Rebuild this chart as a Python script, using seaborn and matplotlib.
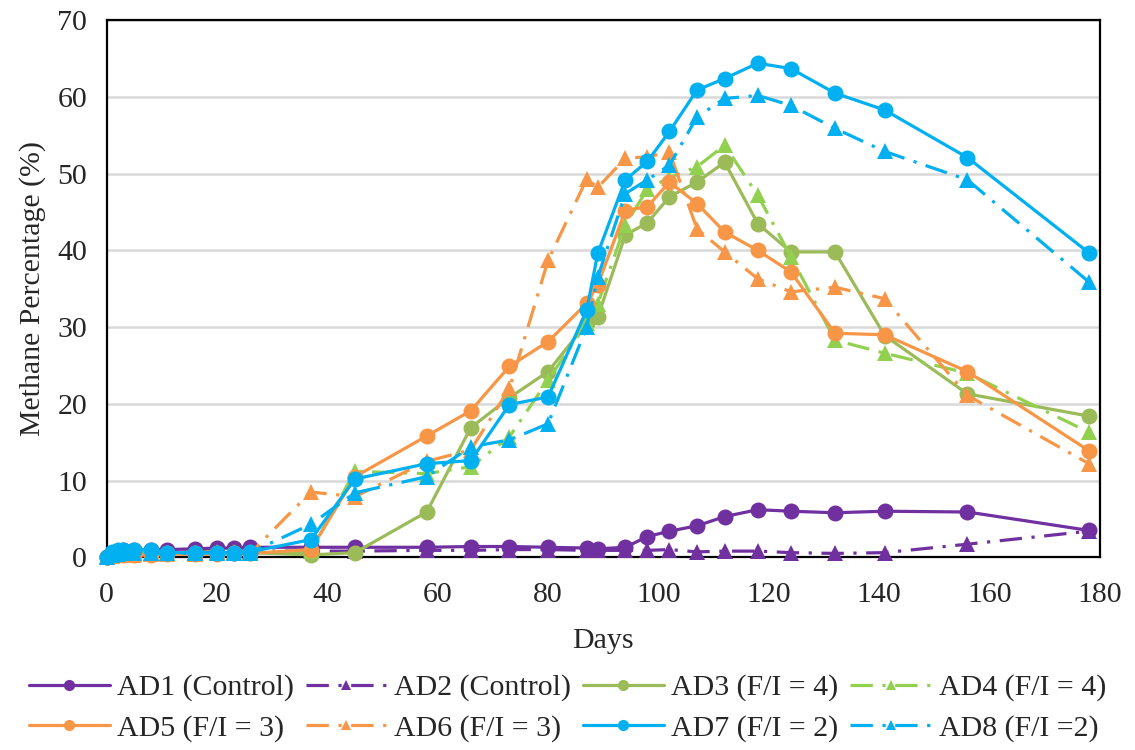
import matplotlib
matplotlib.use("Agg")
import matplotlib.pyplot as plt
import seaborn as sns

# sampling days (same for every digester)
days = [0, 1, 2, 3, 5, 8, 11, 16, 20, 23, 26, 37, 45, 58, 66, 73, 80, 87, 89,
        94, 98, 102, 107, 112, 118, 124, 132, 141, 156, 178]

# methane percentage (%)
ad1 = [0.0, 0.5, 0.8, 0.9, 1.0, 1.0, 1.0, 1.1, 1.2, 1.2, 1.3, 1.3, 1.3, 1.3, 1.4,
       1.4, 1.3, 1.2, 1.1, 1.3, 2.7, 3.4, 4.1, 5.3, 6.2, 6.0, 5.8, 6.0, 5.9, 3.5]
ad2 = [0.0, 0.3, 0.4, 0.5, 0.5, 0.6, 0.6, 0.7, 0.7, 0.7, 0.8, 0.8, 0.8, 0.9, 0.9,
       1.0, 1.0, 0.9, 0.9, 0.9, 0.9, 1.0, 0.7, 0.8, 0.8, 0.6, 0.5, 0.6, 1.7, 3.4]
ad3 = [0.0, 0.3, 0.4, 0.4, 0.5, 0.5, 0.5, 0.5, 0.6, 0.6, 0.6, 0.3, 0.6, 5.9, 16.9,
       20.8, 24.2, 30.5, 31.3, 42.0, 43.6, 47.0, 48.9, 51.5, 43.5, 39.8, 39.8, 28.9, 21.3, 18.4]
ad4 = [0.0, 0.3, 0.4, 0.5, 0.5, 0.5, 0.6, 0.6, 0.7, 0.7, 0.7, 0.8, 11.2, 10.9, 11.8,
       15.7, 23.1, 30.5, 33.0, 43.3, 48.0, 49.5, 50.9, 53.7, 47.2, 39.2, 28.3, 26.6, 24.0, 16.3]
ad5 = [0.0, 0.2, 0.3, 0.3, 0.3, 0.3, 0.4, 0.4, 0.4, 0.5, 0.5, 1.0, 10.5, 15.8, 19.1,
       24.9, 28.1, 33.1, 35.5, 45.2, 45.7, 48.9, 46.1, 42.4, 40.0, 37.2, 29.2, 29.0, 24.2, 13.9]
ad6 = [0.0, 0.2, 0.3, 0.3, 0.3, 0.4, 0.4, 0.4, 0.5, 0.5, 0.5, 8.5, 7.9, 12.5, 14.0,
       22.0, 38.7, 49.3, 48.2, 52.0, 52.2, 52.8, 42.8, 39.8, 36.3, 34.6, 35.2, 33.7, 21.1, 12.2]
ad7 = [0.0, 0.7, 0.9, 1.0, 1.0, 1.0, 0.6, 0.6, 0.6, 0.6, 0.7, 2.3, 10.2, 12.2, 12.6,
       19.9, 20.9, 32.2, 39.6, 49.2, 51.6, 55.5, 60.9, 62.4, 64.4, 63.7, 60.5, 58.3, 52.1, 39.7]
ad8 = [0.0, 0.3, 0.4, 0.5, 0.5, 0.5, 0.5, 0.5, 0.6, 0.6, 0.6, 4.3, 8.4, 10.5, 14.4,
       15.3, 17.4, 30.0, 36.5, 47.4, 49.2, 51.1, 57.4, 59.8, 60.2, 58.9, 55.9, 52.9, 49.2, 35.9]

names = ["AD1 (Control)", "AD2 (Control)", "AD3 (F/I = 4)", "AD4 (F/I = 4)",
         "AD5 (F/I = 3)", "AD6 (F/I = 3)", "AD7 (F/I = 2)", "AD8 (F/I =2)"]
series = [ad1, ad2, ad3, ad4, ad5, ad6, ad7, ad8]
colors = ["#7030A0", "#7030A0", "#9BBB59", "#92D050",
          "#F79646", "#F79646", "#00B0F0", "#00B0F0"]

sns.set_theme(style="white")
plt.rcParams['font.family'] = ['Liberation Serif', 'DejaVu Serif']
FS = 21.5

fig, ax = plt.subplots(figsize=(11.35, 7.5), dpi=100)
fig.subplots_adjust(left=0.094, right=0.969, top=0.973, bottom=0.257)

for i, (name, vals, col) in enumerate(zip(names, series, colors)):
    dashed = i % 2 == 1
    sns.lineplot(x=days, y=vals, ax=ax, color=col, label=name,
                 marker="^" if dashed else "o",
                 markersize=11 if dashed else 11.5,
                 markeredgewidth=0, linewidth=2.3,
                 linestyle=(0, (7, 3, 1, 3)) if dashed else "-",
                 estimator=None, sort=False, clip_on=False, zorder=3)

ax.set_xlim(0, 180)
ax.set_ylim(0, 70)
ax.set_xticks(range(0, 181, 20))
ax.set_yticks(range(0, 71, 10))
ax.tick_params(axis="both", labelsize=FS, length=0, colors="#262626")
ax.tick_params(axis="x", pad=18)
ax.tick_params(axis="y", pad=14)
ax.grid(axis="y", color="#D9D9D9", linewidth=1.8)
ax.grid(axis="x", visible=False)
ax.set_axisbelow(True)
for sp in ax.spines.values():
    sp.set_color("black")
    sp.set_linewidth(1.6)

ax.set_xlabel("Days", fontsize=FS, labelpad=14, color="#262626")
ax.set_ylabel("Methane Percentage (%)", fontsize=FS, labelpad=8, color="#262626")

# legend: two rows of four, below the plot
handles, labels = ax.get_legend_handles_labels()
order = [0, 4, 1, 5, 2, 6, 3, 7]
ax.get_legend().remove()
fig.legend([handles[k] for k in order], [labels[k] for k in order],
           loc="upper center", bbox_to_anchor=(0.5, 0.101), ncol=4,
           frameon=False, fontsize=FS, handlelength=2.7, handletextpad=0.25,
           columnspacing=0.4, markerscale=0.7, labelspacing=0.45,
           borderaxespad=0, borderpad=0)

fig.savefig("out.png", dpi=100)
